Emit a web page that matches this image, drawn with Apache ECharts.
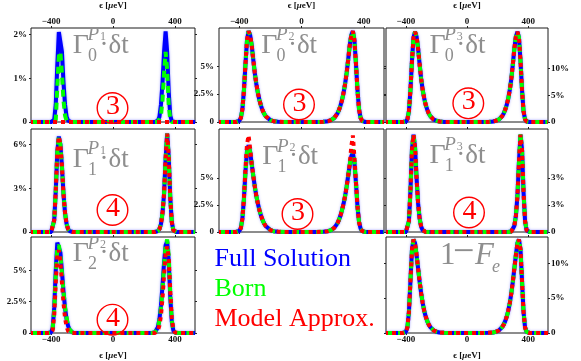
<!DOCTYPE html>
<html><head><meta charset="utf-8">
<script src="https://cdn.jsdelivr.net/npm/echarts@6/dist/echarts.min.js"></script>
<style>html,body{margin:0;padding:0;background:#fff}#c{width:581px;height:361px}</style>
</head><body><div id="c"></div>
<script>
// shared energy grid (µeV)
const xs = [-530,-440,-420,-410,-400, -390,-380,-370,-360,-350, -340,-330,-320,-310,-300, -290,-280,-270,-260,-250, -240,-230,-220,-200,-180, -150,-100,0,
  90,140,170,190,210, 220,230,240,250,260, 270,280,290,300,310, 320,330,340,350,360, 370,380,390,400,410, 430,530];
const xTickVals = [-400, 0, 400];
const xTickLabels = ['\u2212400', '0', '400'];

// Γ0^P1
const g0p1Full = [0,0,0,0,0, 0,0.05,0.4,1.3,2.05, 2.07,1.6,0.9,0.4,0.12, 0.03,0,0,0,0, 0,0,0,0,0, 0,0,0,
  0,0,0,0,0, 0,0,0,0,0, 0,0,0.03,0.12,0.4, 0.9,1.6,2.07,1.6,0.7, 0.15,0.02,0,0,0, 0,0];
const g0p1Born = [0,0,0,0,0, 0,0,0.05,0.8,1.5, 1.6,1.1,0.5,0.15,0.03, 0,0,0,0,0, 0,0,0,0,0, 0,0,0,
  0,0,0,0,0, 0,0,0,0,0, 0,0,0,0.03,0.15, 0.5,1.1,1.6,1.2,0.4, 0.05,0,0,0,0, 0,0];
const g0p1Model = [0,0,0,0,0, 0,0,0,0,0, 0,0,0,0,0, 0,0,0,0,0, 0,0,0,0,0, 0,0,0,
  0,0,0,0,0, 0,0,0,0,0, 0,0,0,0,0, 0,0,0,0,0, 0,0,0,0,0, 0,0];
// Γ0^P2
const g0p2 = [0,0,0,0.02,0.1, 0.35,1.1,2.8,5.2,7.35, 8.15,7.8,6.9,5.6,4.4, 3.4,2.6,1.95,1.45,1.05, 0.75,0.52,0.36,0.17,0.07, 0.02,0,0,
  0,0.02,0.07,0.17,0.36, 0.52,0.75,1.05,1.45,1.95, 2.6,3.4,4.4,5.6,6.9, 7.8,8.15,7.35,5.2,2.8, 1.1,0.35,0.1,0.02,0, 0,0];
// Γ0^P3
const g0p3 = [0,0,0,0,0.1, 0.5,2.0,6.0,11.5,15.8, 16.9,16.0,13.8,10.8,8.1, 6.0,4.4,3.2,2.3,1.6, 1.1,0.75,0.5,0.22,0.09, 0.02,0,0,
  0,0.02,0.09,0.22,0.5, 0.75,1.1,1.6,2.3,3.2, 4.4,6.0,8.1,10.8,13.8, 16.0,16.9,15.8,11.5,6.0, 2.0,0.5,0.1,0,0, 0,0];
// Γ1^P1
const g1p1 = [0,0,0,0,0, 0.1,0.8,2.8,5.5,6.55, 6.0,4.5,2.6,1.3,0.55, 0.2,0.06,0.01,0,0, 0,0,0,0,0, 0,0,0,
  0,0,0,0,0, 0,0,0,0,0, 0,0.02,0.06,0.2,0.55, 1.3,2.6,5.0,6.75,5.2, 2.4,0.7,0.12,0.01,0, 0,0];
// Γ1^P2
const g1p2Full = [0,0,0,0.02,0.1, 0.35,1.2,3.0,5.6,7.5, 8.0,7.4,6.3,5.2,4.2, 3.3,2.6,2.0,1.5,1.1, 0.78,0.55,0.38,0.18,0.07, 0.02,0,0,
  0,0.02,0.07,0.18,0.38, 0.55,0.78,1.1,1.5,2.0, 2.6,3.3,4.2,5.2,6.2, 7.0,7.3,6.4,4.5,2.3, 0.9,0.3,0.08,0.02,0, 0,0];
const g1p2Born = [0,0,0,0.02,0.1, 0.35,1.2,3.0,5.5,7.4, 7.9,7.4,6.3,5.2,4.2, 3.3,2.6,2.0,1.5,1.1, 0.78,0.55,0.38,0.18,0.07, 0.02,0,0,
  0,0.02,0.07,0.18,0.38, 0.55,0.78,1.1,1.5,2.0, 2.6,3.3,4.2,5.2,6.2, 7.2,7.6,6.6,4.5,2.3, 0.9,0.3,0.08,0.02,0, 0,0];
const g1p2Model = [0,0,0,0.02,0.1, 0.35,1.2,3.1,5.8,8.1, 8.9,7.7,6.3,5.2,4.2, 3.3,2.6,2.0,1.5,1.1, 0.78,0.55,0.38,0.18,0.07, 0.02,0,0,
  0,0.02,0.07,0.18,0.38, 0.55,0.78,1.1,1.5,2.0, 2.6,3.3,4.2,5.2,6.3, 7.9,8.9,6.9,4.6,2.3, 0.9,0.3,0.08,0.02,0, 0,0];
// Γ1^P3 (tick units)
const g1p3Full = [0,0,0,0,0, 0.08,0.6,2.3,4.6,5.4, 4.7,3.0,1.6,0.75,0.3, 0.1,0.03,0,0,0, 0,0,0,0,0, 0,0,0,
  0,0,0,0,0, 0,0,0,0,0, 0,0,0.03,0.12,0.35, 0.9,2.0,3.9,5.4,4.6, 2.2,0.6,0.1,0,0, 0,0];
const g1p3Born = [0,0,0,0,0, 0.08,0.6,2.3,4.6,5.45, 4.7,3.0,1.6,0.75,0.3, 0.1,0.03,0,0,0, 0,0,0,0,0, 0,0,0,
  0,0,0,0,0, 0,0,0,0,0, 0,0,0.03,0.12,0.35, 0.9,2.0,3.9,5.5,4.6, 2.2,0.6,0.1,0,0, 0,0];
// Γ2^P2
const g2p2Full = [0,0,0,0,0.05, 0.4,2.0,5.0,7.2,7.3, 6.4,4.9,3.3,2.0,1.1, 0.55,0.25,0.1,0.03,0, 0,0,0,0,0, 0,0,0,
  0,0,0,0,0, 0,0,0,0,0.01, 0.04,0.15,0.45,1.1,2.2, 3.8,5.6,7.0,7.3,5.8, 2.9,0.9,0.2,0.03,0, 0,0];
const g2p2Born = [0,0,0,0,0.04, 0.35,1.8,4.6,6.8,7.0, 6.2,4.8,3.3,2.1,1.2, 0.6,0.25,0.1,0.03,0, 0,0,0,0,0, 0,0,0,
  0,0,0,0,0, 0,0,0,0,0.01, 0.04,0.15,0.45,1.0,2.0, 3.5,5.3,7.0,7.45,6.2, 3.2,1.0,0.2,0.03,0, 0,0];
const g2p2Model = [0,0,0,0,0.02, 0.2,1.4,4.0,6.2,6.6, 5.7,4.0,2.4,1.2,0.5, 0.15,0.04,0,0,0, 0,0,0,0,0, 0,0,0,
  0,0,0,0,0, 0,0,0,0,0, 0,0.05,0.2,0.6,1.4, 2.8,4.6,6.3,6.9,6.0, 3.4,1.2,0.3,0.05,0, 0,0];
// 1 - F_e
const fe = [0,0,0,0.02,0.15, 0.8,3.0,7.5,12.0,13.4, 12.9,11.2,9.3,7.4,5.7, 4.3,3.2,2.35,1.7,1.2, 0.85,0.58,0.4,0.18,0.07, 0.02,0,0,
  0,0.02,0.07,0.18,0.4, 0.58,0.85,1.2,1.7,2.35, 3.2,4.3,5.7,7.4,9.3, 11.2,12.9,13.4,12.0,7.5, 3.0,0.8,0.15,0.02,0, 0,0];

// y tick values / labels
const yT_g0p1 = [0,1,2],     yL_g0p1 = ['0','1%','2%'];
const yT_g0p2 = [0,2.5,5],   yL_g0p2 = ['0','2.5%','5%'];
const yT_g0p3 = [0,5,10],    yL_g0p3 = ['0','5%','10%'];
const yT_g1p1 = [0,3,6],     yL_g1p1 = ['0','3%','6%'];
const yT_g1p2 = [0,2.5,5],   yL_g1p2 = ['0','2.5%','5%'];
const yT_g1p3 = [0,1.5,3],   yL_g1p3 = ['0','3%','3%'];
const yT_g2p2 = [0,2.5,5],   yL_g2p2 = ['0','2.5%','5%'];
const yT_fe   = [0,5,10],    yL_fe   = ['0','5%','10%'];

const FONT = "'Liberation Serif','Times New Roman',serif";
const GRAY = '#8e8e8e';
const colLeft = [31, 219, 386], colW = [164, 165, 162];
const rowTop = [23, 129, 237], rowH = [99, 103, 101];

const panels = [
  {r:0,c:0,yMax:2.145,yT:yT_g0p1,yL:yL_g0p1,full:g0p1Full,born:g0p1Born,model:g0p1Model},
  {r:0,c:1,yMax:8.43,yT:yT_g0p2,yL:yL_g0p2,full:g0p2,born:g0p2,model:g0p2},
  {r:0,c:2,yMax:17.6,yT:yT_g0p3,yL:yL_g0p3,full:g0p3,born:g0p3,model:g0p3},
  {r:1,c:0,yMax:7.07,yT:yT_g1p1,yL:yL_g1p1,full:g1p1,born:g1p1,model:g1p1},
  {r:1,c:1,yMax:9.5,yT:yT_g1p2,yL:yL_g1p2,full:g1p2Full,born:g1p2Born,model:g1p2Model},
  {r:1,c:2,yMax:5.72,yT:yT_g1p3,yL:yL_g1p3,full:g1p3Full,born:g1p3Born,model:g1p3Full},
  {r:2,c:0,yMax:7.65,yT:yT_g2p2,yL:yL_g2p2,full:g2p2Full,born:g2p2Born,model:g2p2Model},
  {r:2,c:2,yMax:13.78,yT:yT_fe,yL:yL_fe,full:fe,born:fe,model:fe}
];

const labStyle = {fontFamily:FONT, fontSize:9, fontWeight:'bold', color:'#111'};
const grids=[], xAxes=[], yAxes=[], series=[];
panels.forEach((p,i)=>{
  grids.push({left:colLeft[p.c], top:rowTop[p.r], width:colW[p.c], height:rowH[p.r], show:true,
    borderColor:'#1a1a1a', borderWidth:1, backgroundColor:'transparent', containLabel:false});
  const mkX = (pos, showLab, showName) => ({
    type:'value', gridIndex:i, position:pos, min:-530, max:530,
    splitLine:{show:false}, axisLine:{show:false, onZero:false},
    axisTick:{show:true, inside:false, length:2, customValues:xTickVals, lineStyle:{color:'#222'}},
    axisLabel:Object.assign({show:showLab, margin:2, customValues:xTickVals,
      formatter:v=>{const k=xTickVals.indexOf(v);return k<0?'':xTickLabels[k];}}, labStyle),
    name: showName ? '\u03f5 [{i|\u03bc}eV]' : '', nameLocation:'middle', nameGap:18,
    nameTextStyle:Object.assign({rich:{i:Object.assign({fontStyle:'italic'}, labStyle)}}, labStyle)
  });
  xAxes.push(mkX('bottom', p.r===2, p.r===2));
  xAxes.push(mkX('top', p.r===0, p.r===0));
  const mkY = (pos, showLab) => ({
    type:'value', gridIndex:i, position:pos, min:0, max:p.yMax,
    splitLine:{show:false}, axisLine:{show:false, onZero:false},
    axisTick:{show:true, inside:false, length:2, customValues:p.yT, lineStyle:{color:'#222'}},
    axisLabel:Object.assign({show:showLab, margin:pos==='right'?3:(p.c===0?4:5), customValues:p.yT,
      formatter:v=>{const k=p.yT.indexOf(v);return k<0?'':p.yL[k];}}, labStyle)
  });
  yAxes.push(mkY('left', p.c<2));
  yAxes.push(mkY('right', p.c===2));
  const mk = (arr, name, ls, z) => ({
    type:'line', name, xAxisIndex:2*i, yAxisIndex:2*i, showSymbol:false, symbol:'none',
    clip:true, z, animation:false, lineStyle:ls,
    data: xs.map((x,k)=>[x, arr[k]])
  });
  series.push(mk(p.full,'Full Solution',{color:'#0000ff',width:4,type:'solid',shadowColor:'rgba(70,70,255,0.55)',shadowBlur:2.5},2));
  series.push(mk(p.born,'Born',{color:'#00ff00',width:4,type:[7,5],cap:'butt'},3));
  series.push(mk(p.model,'Model Approx.',{color:'#ff0000',width:4,type:[4,4],dashOffset:2,cap:'butt'},4));
});

function txt(x, y, text, size, color, italic, align) {
  return {type:'text', x, y, silent:true, z:100,
    style:{text, font:(italic?'italic ':'')+size+'px '+FONT, fill:color,
      textAlign:align||'left', textVerticalAlign:'middle', align:align||'left', verticalAlign:'middle'}};
}
const TDY = 1.5;
function gamma(x0, dy, sub, sup) {
  dy += TDY;
  return [
    txt(x0-0.5, 43.85+dy, '\u0393', 28, GRAY),
    txt(x0+14.2, 33.6+dy, 'P', 19, GRAY, true),
    txt(x0+26.7, 35+dy, sup, 12, GRAY),
    txt(x0+14.7, 54.6+dy, sub, 18, GRAY),
    txt(x0+26.2, 44.2+dy, '\u00b7\u03b4t', 27, GRAY)
  ];
}
function circ(cx, cy, n) {
  return [
    {type:'circle', silent:true, z:100, shape:{cx, cy, r:15.3}, style:{fill:'none', stroke:'#ff0000', lineWidth:1.4}},
    txt(cx+0.5, cy-1.2, n, 28, '#ff0000', false, 'center')
  ];
}
const graphic = [].concat(
  gamma(73.3,0,'0','1'), gamma(261.7,0,'0','2'), gamma(430,0,'0','3'),
  gamma(73.3,114.2,'1','1'), gamma(262.7,111.4,'1','2'), gamma(430,110,'1','3'),
  gamma(73.3,208.4,'2','2'),
  [txt(440,256,'1',31,GRAY), txt(453,253,'\u2212',38,GRAY), txt(475,256,'F',31,GRAY,true), txt(492,267,'e',18,GRAY,true)],
  circ(112.5,108,'3'), circ(299,104.5,'3'), circ(468.3,103.3,'3'),
  circ(112.5,210,'4'), circ(297.5,214,'3'), circ(469,212.5,'4'), circ(112.5,319.7,'4'),
  [txt(214.5,259.5,'Full Solution',26,'#0000ff'), txt(214.5,288.9,'Born',26,'#00ff00'), txt(214.5,318.9,'Model Approx.',26,'#ff0000')]
);

const chart = echarts.init(document.getElementById('c'), null, {renderer:'canvas', width:581, height:361});
chart.setOption({animation:false, backgroundColor:'#fff', grid:grids, xAxis:xAxes, yAxis:yAxes, series, graphic});
</script></body></html>
